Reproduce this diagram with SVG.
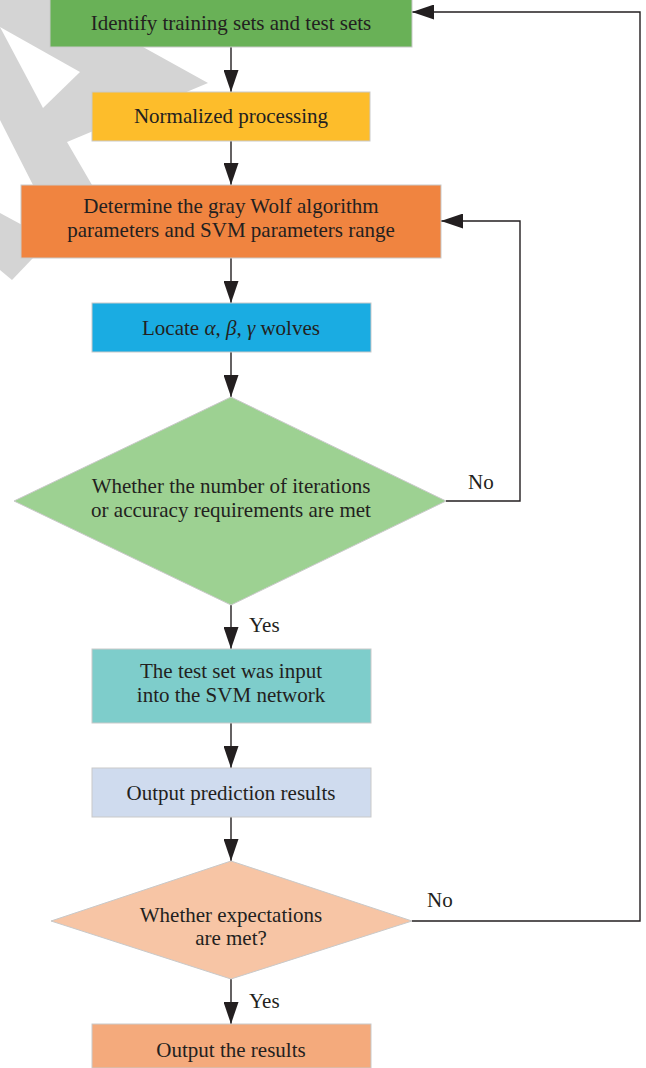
<svg xmlns="http://www.w3.org/2000/svg" width="646" height="1068" viewBox="0 0 646 1068">
<style>
.box{stroke:#c9c9c9;stroke-width:1}
.t{font-size:21px;fill:#231f20;text-anchor:middle}
.lbl{font-size:21px;fill:#231f20}
.c{fill:none;stroke:#231f20;stroke-width:1.4}
.wm{fill:#d4d4d4}
</style>
<defs>
<marker id="ah" markerUnits="userSpaceOnUse" markerWidth="22" markerHeight="15" refX="22" refY="7.5" orient="auto">
<path d="M0,0 L22,7.5 L0,15 Z" fill="#231f20"/>
</marker>
</defs>
<rect width="646" height="1068" fill="#ffffff"/>
<g id="watermark">
<polygon class="wm" points="0,0 140,0 143,47 208,83 67,142 92,185 92,230 33,185 0,120"/>
<polygon fill="#ffffff" points="0,27 80,72 43,108"/>
<polygon class="wm" points="0,213 50,240 33,258 12,280 0,270"/>
</g>
<g font-family="Liberation Serif, DejaVu Serif, serif">
<g id="connectors">
<line class="c" x1="231" y1="47" x2="231" y2="92" marker-end="url(#ah)"/>
<line class="c" x1="231" y1="141" x2="231" y2="185" marker-end="url(#ah)"/>
<line class="c" x1="231" y1="258" x2="231" y2="303" marker-end="url(#ah)"/>
<line class="c" x1="231" y1="352" x2="231" y2="397" marker-end="url(#ah)"/>
<line class="c" x1="231" y1="605" x2="231" y2="649" marker-end="url(#ah)"/>
<line class="c" x1="231" y1="723" x2="231" y2="768" marker-end="url(#ah)"/>
<line class="c" x1="231" y1="817" x2="231" y2="861" marker-end="url(#ah)"/>
<line class="c" x1="231" y1="979" x2="231" y2="1024" marker-end="url(#ah)"/>
<polyline class="c" points="446,501 520,501 520,221 441,221" marker-end="url(#ah)"/>
<polyline class="c" points="412,921 640,921 640,12 412,12" marker-end="url(#ah)"/>
<text class="lbl" x="249" y="632">Yes</text>
<text class="lbl" x="249" y="1008">Yes</text>
<text class="lbl" x="468" y="489">No</text>
<text class="lbl" x="427" y="907">No</text>
</g>
<g id="n1">
<rect class="box" x="50" y="-2" width="362" height="49" fill="#69b157"/>
<text class="t" x="231" y="30">Identify training sets and test sets</text>
</g>
<g id="n2">
<rect class="box" x="92" y="92" width="278" height="49" fill="#fdbd2b"/>
<text class="t" x="231" y="123">Normalized processing</text>
</g>
<g id="n3">
<rect class="box" x="21" y="185" width="420" height="73" fill="#f08440"/>
<text class="t" x="231" y="213">Determine the gray Wolf algorithm</text>
<text class="t" x="231" y="237">parameters and SVM parameters range</text>
</g>
<g id="n4">
<rect class="box" x="92" y="303" width="279" height="49" fill="#1aace2"/>
<text class="t" x="231" y="335">Locate <tspan font-style="italic">α</tspan>, <tspan font-style="italic">β</tspan>, <tspan font-style="italic">γ</tspan> wolves</text>
</g>
<g id="n5">
<polygon class="box" points="231,397 446,501 231,605 14,501" fill="#9dd192"/>
<text class="t" x="231" y="493">Whether the number of iterations</text>
<text class="t" x="231" y="517">or accuracy requirements are met</text>
</g>
<g id="n6">
<rect class="box" x="92" y="649" width="279" height="74" fill="#7ecdcb"/>
<text class="t" x="231" y="678">The test set was input</text>
<text class="t" x="231" y="702">into the SVM network</text>
</g>
<g id="n7">
<rect class="box" x="92" y="768" width="279" height="49" fill="#cfdbee"/>
<text class="t" x="231" y="800">Output prediction results</text>
</g>
<g id="n8">
<polygon class="box" points="231,861 412,921 231,979 51,921" fill="#f7c5a5"/>
<text class="t" x="231" y="922">Whether expectations</text>
<text class="t" x="231" y="945">are met?</text>
</g>
<g id="n9">
<rect class="box" x="92" y="1024" width="279" height="44" fill="#f4aa7c"/>
<text class="t" x="231" y="1057">Output the results</text>
</g>
</g>
</svg>
